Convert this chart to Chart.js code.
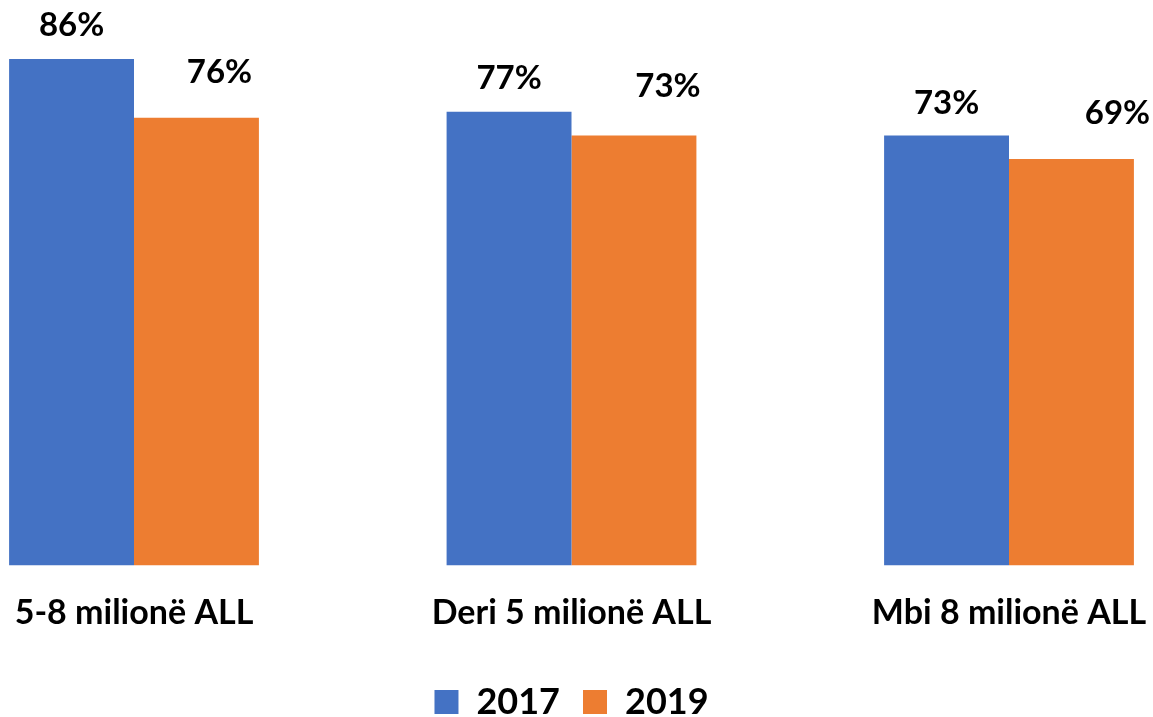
<!DOCTYPE html>
<html>
<head>
<meta charset="utf-8">
<script src="https://cdn.jsdelivr.net/npm/chart.js@4.4.1/dist/chart.umd.min.js"></script>
<style>
  html, body { margin: 0; padding: 0; background: #fff; }
  #wrap { width: 1153px; height: 717px; position: relative; }
</style>
</head>
<body>
<div id="wrap"><canvas id="incomeChart"></canvas></div>
<script>
// Categories and yearly shares (%)
var categories = ['5-8 milionë ALL', 'Deri 5 milionë ALL', 'Mbi 8 milionë ALL'];
var series2017 = [86, 77, 73];
var series2019 = [76, 73, 69];
var seriesLabels = ['2017', '2019'];

var FONT = 'Lato, "Open Sans", sans-serif';

// Value labels above each bar; orange ones sit a bit higher and to the right
var barValueLabels = {
    id: 'barValueLabels',
    afterDatasetsDraw: function (chart, args, opts) {
        var ctx = chart.ctx;
        ctx.save();
        ctx.font = 'bold ' + opts.size + 'px ' + FONT;
        ctx.fillStyle = '#000';
        ctx.textAlign = 'center';
        ctx.textBaseline = 'alphabetic';
        chart.data.datasets.forEach(function (ds, di) {
            var meta = chart.getDatasetMeta(di);
            var nudge = opts.nudge[di];
            meta.data.forEach(function (bar, i) {
                ctx.fillText(ds.data[i] + '%', bar.x + nudge.dx[i], bar.y - nudge.gap[i]);
            });
        });
        ctx.restore();
    }
};

var ctx = document.getElementById('incomeChart').getContext('2d');
var incomeChart = new Chart(ctx, {
    type: 'bar',
    data: {
        labels: categories,
        datasets: [{
            label: seriesLabels[0],
            data: series2017,
            backgroundColor: '#4472C4',
            borderWidth: 0,
            clip: false
        }, {
            label: seriesLabels[1],
            data: series2019,
            backgroundColor: '#ED7D31',
            borderWidth: 0,
            clip: false
        }]
    },
    options: {
        responsive: true,
        maintainAspectRatio: false,
        animation: false,
        layout: {
            // negative bottom pushes the legend down to the canvas edge
            padding: { left: 134, right: 144, top: 0, bottom: -13 }
        },
        datasets: {
            bar: {
                categoryPercentage: 0.571,
                barPercentage: 1
            }
        },
        scales: {
            x: {
                offset: false,
                grid: { display: false },
                border: { display: false },
                ticks: {
                    color: '#000',
                    padding: 19,
                    maxRotation: 0,
                    autoSkip: false,
                    font: { family: FONT, size: 34, weight: 'bold' }
                },
                // bars at the edge categories hang outside the plot area,
                // so drop the label padding
                afterFit: function (scale) {
                    scale.paddingLeft = 0;
                    scale.paddingRight = 0;
                    scale.height += 9;
                }
            },
            y: {
                display: false,
                min: 0,
                max: 96
            }
        },
        plugins: {
            legend: {
                position: 'bottom',
                labels: {
                    color: '#000',
                    boxWidth: 24,
                    boxHeight: 24,
                    padding: 23,
                    font: { family: FONT, size: 36, weight: 'bold' }
                }
            },
            tooltip: { enabled: false },
            barValueLabels: {
                size: 33,
                nudge: [
                    { dx: [0, 0, 0], gap: [23, 23, 21] },
                    { dx: [23, 34, 46], gap: [35, 38, 35] }
                ]
            }
        }
    },
    plugins: [barValueLabels]
});
</script>
</body>
</html>
